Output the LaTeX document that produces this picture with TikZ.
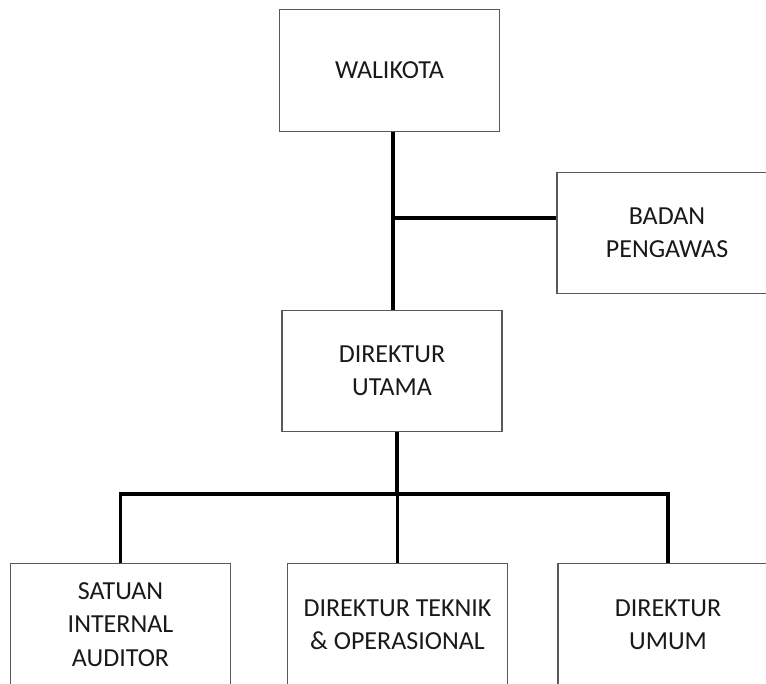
\documentclass[tikz,border=0pt]{standalone}
\usepackage{fontspec}
\setmainfont{Carlito}
\usepackage{tikz}
\tikzset{>=latex}
\usetikzlibrary{calc,positioning}
\tikzset{
  unit/.style={draw=black!65, line width=0.8pt, minimum width=165pt, minimum height=91pt,
    align=center, inner sep=0pt, text=black!90, font=\fontsize{19.5}{25}\selectfont},
  link/.style={line width=2.3pt}
}

\begin{document}
\begin{tikzpicture}[x=0.75pt,y=-0.75pt]
                \useasboundingbox (0,0) rectangle (766,684);
                \clip (0,0) rectangle (766,684);
                \node[unit] (wali) at (389.5,70.5) {WALIKOTA};
                \node[unit] (badan) at (667,233) {BADAN\\PENGAWAS};
                \node[unit] (dirut) at (392,371) {DIREKTUR\\UTAMA};
                \node[unit] (spi) at (120.5,624.5) {SATUAN\\INTERNAL\\AUDITOR};
                \node[unit] (teknik) at (397.5,624.5) {DIREKTUR TEKNIK\\\& OPERASIONAL};
                \node[unit] (umum) at (668,624.5) {DIREKTUR\\UMUM};
                \coordinate (cab) at (393,218);
                \coordinate (bus) at (397,494);
                \draw[link] (dirut.north -| cab) -- (wali.south -| cab);
                \draw[link] (cab) -- (cab -| badan.west);
                \draw[link] (dirut.south -| bus) -- (bus);
                \draw[link] (spi.north) |- (umum.north |- bus) -- (umum.north);
                \draw[link] (teknik.north) -- (teknik.north |- bus);
            \end{tikzpicture}
\end{document}
